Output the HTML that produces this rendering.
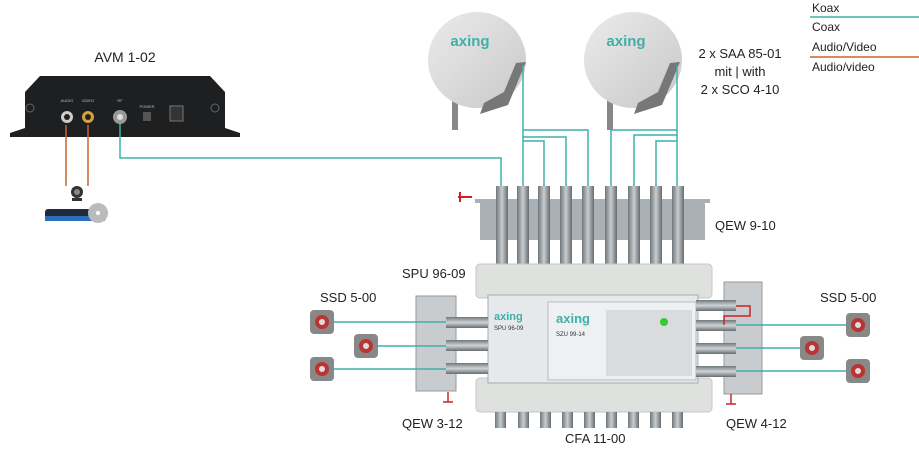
<!DOCTYPE html>
<html><head><meta charset="utf-8"><style>
html,body{margin:0;padding:0;background:#fff;}
svg{display:block;font-family:"Liberation Sans",sans-serif;}
</style></head><body>
<svg width="919" height="449" viewBox="0 0 919 449" xmlns="http://www.w3.org/2000/svg">
<defs>
<linearGradient id="dish" x1="0" y1="0" x2="1" y2="1"><stop offset="0" stop-color="#ebebeb"/><stop offset="1" stop-color="#c8c8c8"/></linearGradient>
<linearGradient id="conn" x1="0" y1="0" x2="1" y2="0"><stop offset="0" stop-color="#6f767a"/><stop offset=".5" stop-color="#c9cdd0"/><stop offset="1" stop-color="#656b6f"/></linearGradient>
<linearGradient id="connh" x1="0" y1="0" x2="0" y2="1"><stop offset="0" stop-color="#6f767a"/><stop offset=".5" stop-color="#d0d4d6"/><stop offset="1" stop-color="#656b6f"/></linearGradient>
</defs>
<!-- legend -->
<g font-size="12" fill="#222">
<text x="812" y="12">Koax</text>
<line x1="810" y1="17" x2="919" y2="17" stroke="#3fb0a8" stroke-width="1.5"/>
<text x="812" y="31">Coax</text>
<text x="812" y="51">Audio/Video</text>
<line x1="810" y1="57" x2="919" y2="57" stroke="#c8652e" stroke-width="1.5"/>
<text x="812" y="71">Audio/video</text>
</g>
<!-- AVM -->
<text x="125" y="62" font-size="14" text-anchor="middle" fill="#222">AVM 1-02</text>
<path d="M40,76 L210,76 L225,92 L225,128 L240,133 L240,137 L10,137 L10,133 L25,128 L25,92 Z" fill="#1e1f21"/>
<circle cx="30" cy="108" r="4" fill="none" stroke="#666"/><circle cx="215" cy="108" r="4" fill="none" stroke="#666"/>
<circle cx="67" cy="117" r="6" fill="#ccc"/><circle cx="67" cy="117" r="3" fill="#222"/>
<circle cx="88" cy="117" r="6" fill="#d4a23a"/><circle cx="88" cy="117" r="3" fill="#222"/>
<circle cx="120" cy="117" r="7" fill="#999"/><circle cx="120" cy="117" r="3" fill="#ddd"/>
<rect x="143" y="112" width="8" height="9" fill="#555"/>
<rect x="170" y="106" width="13" height="15" fill="#333" stroke="#777"/>
<g font-size="4" fill="#bbb" text-anchor="middle"><text x="67" y="102">AUDIO</text><text x="88" y="102">VIDEO</text><text x="120" y="102">RF</text><text x="147" y="108">POWER</text></g>
<line x1="66" y1="125" x2="66" y2="186" stroke="#c8652e" stroke-width="1.5"/>
<line x1="88" y1="125" x2="88" y2="186" stroke="#c8652e" stroke-width="1.5"/>
<circle cx="77" cy="192" r="6" fill="#333"/><circle cx="77" cy="192" r="3" fill="#888"/><rect x="72" y="198" width="10" height="3" fill="#333"/>
<rect x="45" y="209" width="60" height="12" rx="3" fill="#1f2b3d"/><rect x="45" y="216" width="60" height="5" fill="#2d6fb8"/>
<circle cx="98" cy="213" r="10" fill="#bbb"/><circle cx="98" cy="213" r="2" fill="#fff"/>
<!-- coax from AVM -->
<polyline points="120,124 120,158 501,158 501,188" fill="none" stroke="#3fb0a8" stroke-width="1.5"/>
<!-- dishes -->
<g>
<rect x="452" y="90" width="6" height="40" fill="#888"/>
<ellipse cx="477" cy="60" rx="49" ry="48" fill="url(#dish)"/>
<path d="M516,63 L526,62 L508,105 L480,114 L484,103 L504,92 Z" fill="#777"/>
<text x="470" y="46" font-size="15" font-weight="bold" fill="#3fb0a8" text-anchor="middle">axing</text>
<rect x="607" y="90" width="6" height="40" fill="#888"/>
<ellipse cx="633" cy="60" rx="49" ry="48" fill="url(#dish)"/>
<path d="M670,63 L680,62 L662,105 L634,114 L638,103 L658,92 Z" fill="#777"/>
<text x="626" y="46" font-size="15" font-weight="bold" fill="#3fb0a8" text-anchor="middle">axing</text>
</g>
<g font-size="13" fill="#222" text-anchor="middle"><text x="740" y="58">2 x SAA 85-01</text><text x="740" y="76">mit | with</text><text x="740" y="94">2 x SCO 4-10</text></g>
<!-- LNB lines -->
<g fill="none" stroke="#3fb0a8" stroke-width="1.5">
<polyline points="523,65 523,188"/>
<polyline points="523,130 588,130 588,188"/>
<polyline points="523,137 566,137 566,188"/>
<polyline points="523,141 544,141 544,188"/>
<polyline points="677,65 677,188"/>
<polyline points="677,130 611,130 611,188"/>
<polyline points="677,135 634,135 634,188"/>
<polyline points="677,141 656,141 656,188"/>
</g>
<!-- QEW 9-10 -->
<path d="M475,199 L710,199 L710,203 L705,203 L705,240 L480,240 L480,203 L475,203 Z" fill="#a9b1b7"/>
<line x1="458" y1="197" x2="472" y2="197" stroke="#c22" stroke-width="2"/><line x1="460" y1="192" x2="460" y2="202" stroke="#c22" stroke-width="2"/>
<g>
<rect x="496" y="186" width="12" height="80" fill="url(#conn)"/><rect x="517" y="186" width="12" height="80" fill="url(#conn)"/><rect x="538" y="186" width="12" height="80" fill="url(#conn)"/><rect x="560" y="186" width="12" height="80" fill="url(#conn)"/><rect x="582" y="186" width="12" height="80" fill="url(#conn)"/><rect x="605" y="186" width="12" height="80" fill="url(#conn)"/><rect x="628" y="186" width="12" height="80" fill="url(#conn)"/><rect x="650" y="186" width="12" height="80" fill="url(#conn)"/><rect x="672" y="186" width="12" height="80" fill="url(#conn)"/>
</g>
<text x="715" y="230" font-size="13" fill="#222">QEW 9-10</text>
<!-- multiswitch -->
<rect x="476" y="264" width="236" height="34" rx="4" fill="#dfe1df" stroke="#c5c7c5"/>
<rect x="476" y="378" width="236" height="34" rx="4" fill="#dfe1df" stroke="#c5c7c5"/>
<rect x="488" y="295" width="210" height="88" fill="#e6e9ec" stroke="#aaa"/>
<rect x="548" y="302" width="148" height="78" fill="#eef0f1" stroke="#bbb"/>
<rect x="606" y="310" width="86" height="66" fill="#d9dbdc"/>
<circle cx="664" cy="322" r="4" fill="#3c3"/>
<text x="494" y="320" font-size="11" font-weight="bold" fill="#3fb0a8">axing</text>
<text x="556" y="323" font-size="13" font-weight="bold" fill="#3fb0a8">axing</text>
<text x="494" y="330" font-size="6" fill="#333">SPU 96-09</text>
<text x="556" y="336" font-size="6" fill="#333">SZU 99-14</text>
<g>
<rect x="495" y="412" width="11" height="16" fill="url(#conn)"/><rect x="518" y="412" width="11" height="16" fill="url(#conn)"/><rect x="540" y="412" width="11" height="16" fill="url(#conn)"/><rect x="562" y="412" width="11" height="16" fill="url(#conn)"/><rect x="584" y="412" width="11" height="16" fill="url(#conn)"/><rect x="606" y="412" width="11" height="16" fill="url(#conn)"/><rect x="628" y="412" width="11" height="16" fill="url(#conn)"/><rect x="650" y="412" width="11" height="16" fill="url(#conn)"/><rect x="672" y="412" width="11" height="16" fill="url(#conn)"/>
</g>
<!-- left QEW 3-12 -->
<rect x="416" y="296" width="40" height="95" fill="#c8cccf" stroke="#999"/>
<rect x="446" y="317" width="42" height="11" fill="url(#connh)"/><rect x="446" y="340" width="42" height="11" fill="url(#connh)"/><rect x="446" y="363" width="42" height="11" fill="url(#connh)"/>
<line x1="448" y1="392" x2="448" y2="402" stroke="#c22" stroke-width="1.5"/><line x1="443" y1="402" x2="453" y2="402" stroke="#c22" stroke-width="1.5"/>
<g stroke="#3fb0a8" stroke-width="1.5"><line x1="330" y1="322" x2="446" y2="322"/><line x1="375" y1="346" x2="446" y2="346"/><line x1="330" y1="369" x2="446" y2="369"/></g>
<!-- right QEW 4-12 -->
<rect x="724" y="282" width="38" height="112" fill="#c8cccf" stroke="#999"/>
<rect x="696" y="300" width="40" height="11" fill="url(#connh)"/><rect x="696" y="320" width="40" height="11" fill="url(#connh)"/><rect x="696" y="343" width="40" height="11" fill="url(#connh)"/><rect x="696" y="366" width="40" height="11" fill="url(#connh)"/>
<polyline points="736,306 750,306 750,316 724,316 724,325" fill="none" stroke="#c22" stroke-width="1.5"/>
<line x1="731" y1="394" x2="731" y2="404" stroke="#c22" stroke-width="1.5"/><line x1="726" y1="404" x2="736" y2="404" stroke="#c22" stroke-width="1.5"/>
<g stroke="#3fb0a8" stroke-width="1.5"><line x1="736" y1="325" x2="850" y2="325"/><line x1="736" y1="348" x2="805" y2="348"/><line x1="736" y1="371" x2="850" y2="371"/></g>
<!-- SSD outlets -->
<g>
<g transform="translate(322,322)"><rect x="-12" y="-12" width="24" height="24" rx="4" fill="#888"/><circle r="7" fill="#b33"/><circle r="3" fill="#ddd"/></g>
<g transform="translate(366,346)"><rect x="-12" y="-12" width="24" height="24" rx="4" fill="#888"/><circle r="7" fill="#b33"/><circle r="3" fill="#ddd"/></g>
<g transform="translate(322,369)"><rect x="-12" y="-12" width="24" height="24" rx="4" fill="#888"/><circle r="7" fill="#b33"/><circle r="3" fill="#ddd"/></g>
<g transform="translate(858,325)"><rect x="-12" y="-12" width="24" height="24" rx="4" fill="#888"/><circle r="7" fill="#b33"/><circle r="3" fill="#ddd"/></g>
<g transform="translate(812,348)"><rect x="-12" y="-12" width="24" height="24" rx="4" fill="#888"/><circle r="7" fill="#b33"/><circle r="3" fill="#ddd"/></g>
<g transform="translate(858,371)"><rect x="-12" y="-12" width="24" height="24" rx="4" fill="#888"/><circle r="7" fill="#b33"/><circle r="3" fill="#ddd"/></g>
</g>
<g font-size="13" fill="#222">
<text x="402" y="278">SPU 96-09</text>
<text x="320" y="302">SSD 5-00</text>
<text x="820" y="302">SSD 5-00</text>
<text x="402" y="428">QEW 3-12</text>
<text x="565" y="443">CFA 11-00</text>
<text x="726" y="428">QEW 4-12</text>
</g>
</svg>
</body></html>
